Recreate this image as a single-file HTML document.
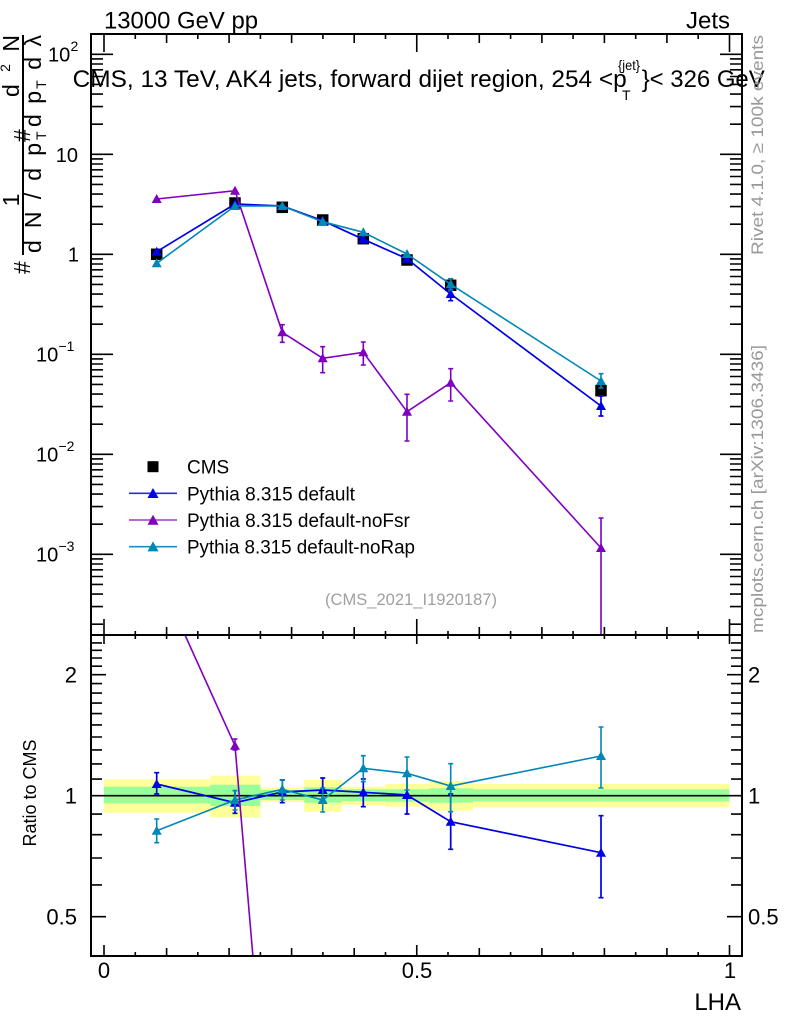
<!DOCTYPE html>
<html><head><meta charset="utf-8"><style>
html,body{margin:0;padding:0;background:#fff;width:786px;height:1024px;overflow:hidden;}
svg{display:block;font-family:"Liberation Sans",Arial,sans-serif;}
</style></head><body>
<svg width="786" height="1024" viewBox="0 0 786 1024" xmlns="http://www.w3.org/2000/svg">
<defs>
<clipPath id="cm"><rect x="91" y="34" width="651" height="601"/></clipPath>
<clipPath id="cr"><rect x="91" y="635" width="651" height="321"/></clipPath>
</defs>
<rect x="0" y="0" width="786" height="1024" fill="#fff"/>

<!-- header texts -->
<text x="104" y="28.5" font-size="24" textLength="154" lengthAdjust="spacingAndGlyphs">13000 GeV pp</text>
<text x="730" y="28.5" font-size="24" text-anchor="end">Jets</text>
<text x="72.7" y="87" font-size="24" textLength="554" lengthAdjust="spacingAndGlyphs">CMS, 13 TeV, AK4 jets, forward dijet region, 254 &lt;p</text>
<text x="618" y="70" font-size="14" textLength="22" lengthAdjust="spacingAndGlyphs">{jet}</text>
<text x="622" y="100" font-size="14">T</text>
<text x="641.7" y="87" font-size="24" textLength="123" lengthAdjust="spacingAndGlyphs">}&lt; 326 GeV</text>

<!-- right side gray texts -->
<text transform="translate(763,255) rotate(-90)" font-size="17" fill="#999" textLength="220" lengthAdjust="spacingAndGlyphs">Rivet 4.1.0, ≥ 100k events</text>
<text transform="translate(763,633) rotate(-90)" font-size="17" fill="#999" textLength="288" lengthAdjust="spacingAndGlyphs">mcplots.cern.ch [arXiv:1306.3436]</text>

<!-- y axis label (main) -->
<text transform="translate(30,274) rotate(-90)" font-size="23">#</text>
<line x1="23" y1="35" x2="23" y2="255" stroke="#000" stroke-width="2"/>
<text transform="translate(19,200) rotate(-90)" font-size="23" text-anchor="middle">1</text>
<text transform="translate(41,253) rotate(-90)" font-size="23" textLength="110" lengthAdjust="spacing">d N / d p</text>
<text transform="translate(46,140) rotate(-90)" font-size="14">T</text>
<text transform="translate(30,142) rotate(-90)" font-size="23">#</text>
<text transform="translate(19,97) rotate(-90)" font-size="23" textLength="62" lengthAdjust="spacing">d<tspan font-size="14" dy="-9">2</tspan><tspan dy="9">N</tspan></text>
<text transform="translate(41,127) rotate(-90)" font-size="23" textLength="92" lengthAdjust="spacing">d p<tspan font-size="14" dy="5">T</tspan><tspan dy="-5"> d λ</tspan></text>

<!-- ratio y label -->
<text transform="translate(36,793) rotate(-90)" font-size="18" text-anchor="middle" textLength="107" lengthAdjust="spacingAndGlyphs">Ratio to CMS</text>

<!-- main y tick labels -->
<g font-size="20">
<text x="48" y="61.5">10</text><text x="70.5" y="51" font-size="14">2</text>
<text x="78" y="162" text-anchor="end">10</text>
<text x="79" y="261.5" text-anchor="end">1</text>
<text x="36" y="361.5">10</text><text x="58.5" y="351" font-size="14">−1</text>
<text x="36" y="461.5">10</text><text x="58.5" y="451" font-size="14">−2</text>
<text x="36" y="561.5">10</text><text x="58.5" y="551" font-size="14">−3</text>
</g>

<!-- ratio y tick labels -->
<g font-size="22">
<text x="77" y="682.7" text-anchor="end">2</text>
<text x="77" y="803.7" text-anchor="end">1</text>
<text x="77" y="924.7" text-anchor="end">0.5</text>
<text x="748" y="682.7">2</text>
<text x="748" y="803.7">1</text>
<text x="748" y="924.7">0.5</text>
</g>

<!-- x tick labels -->
<g font-size="22" text-anchor="middle">
<text x="104" y="978">0</text>
<text x="417" y="978">0.5</text>
<text x="730" y="978">1</text>
</g>
<text x="741" y="1010" font-size="24" text-anchor="end">LHA</text>

<!-- gray analysis label -->
<text x="325" y="605" font-size="16.5" fill="#a0a0a0" textLength="172" lengthAdjust="spacingAndGlyphs">(CMS_2021_I1920187)</text>

<!-- ticks -->
<g stroke="#000" stroke-width="1.6" fill="none">
<path d="M91 54.3h22M91 154.3h22M91 254.3h22M91 354.3h22M91 454.3h22M91 554.3h22
M91 58.9h12M91 64h12M91 69.8h12M91 76.5h12M91 84.4h12M91 94.1h12M91 106.6h12M91 124.2h12
M91 158.9h12M91 164h12M91 169.8h12M91 176.5h12M91 184.4h12M91 194.1h12M91 206.6h12M91 224.2h12
M91 258.9h12M91 264h12M91 269.8h12M91 276.5h12M91 284.4h12M91 294.1h12M91 306.6h12M91 324.2h12
M91 358.9h12M91 364h12M91 369.8h12M91 376.5h12M91 384.4h12M91 394.1h12M91 406.6h12M91 424.2h12
M91 458.9h12M91 464h12M91 469.8h12M91 476.5h12M91 484.4h12M91 494.1h12M91 506.6h12M91 524.2h12
M91 558.9h12M91 564h12M91 569.8h12M91 576.5h12M91 584.4h12M91 594.1h12M91 606.6h12M91 624.2h12"/>
<path d="M742 54.3h-22M742 154.3h-22M742 254.3h-22M742 354.3h-22M742 454.3h-22M742 554.3h-22
M742 58.9h-12M742 64h-12M742 69.8h-12M742 76.5h-12M742 84.4h-12M742 94.1h-12M742 106.6h-12M742 124.2h-12
M742 158.9h-12M742 164h-12M742 169.8h-12M742 176.5h-12M742 184.4h-12M742 194.1h-12M742 206.6h-12M742 224.2h-12
M742 258.9h-12M742 264h-12M742 269.8h-12M742 276.5h-12M742 284.4h-12M742 294.1h-12M742 306.6h-12M742 324.2h-12
M742 358.9h-12M742 364h-12M742 369.8h-12M742 376.5h-12M742 384.4h-12M742 394.1h-12M742 406.6h-12M742 424.2h-12
M742 458.9h-12M742 464h-12M742 469.8h-12M742 476.5h-12M742 484.4h-12M742 494.1h-12M742 506.6h-12M742 524.2h-12
M742 558.9h-12M742 564h-12M742 569.8h-12M742 576.5h-12M742 584.4h-12M742 594.1h-12M742 606.6h-12M742 624.2h-12"/>
<path d="M91 916.7h15M91 795.7h15M91 674.7h15
M91 884.9h11M91 858h11M91 834.7h11M91 814.1h11M91 779.1h11M91 763.9h11M91 749.9h11M91 737h11M91 724.9h11M91 713.6h11M91 703.1h11M91 693.1h11M91 683.6h11M91 666.2h11M91 658h11M91 650.3h11M91 642.9h11"/>
<path d="M742 916.7h-15M742 795.7h-15M742 674.7h-15
M742 884.9h-11M742 858h-11M742 834.7h-11M742 814.1h-11M742 779.1h-11M742 763.9h-11M742 749.9h-11M742 737h-11M742 724.9h-11M742 713.6h-11M742 703.1h-11M742 693.1h-11M742 683.6h-11M742 666.2h-11M742 658h-11M742 650.3h-11M742 642.9h-11"/>
<path d="M104 34v18M416.75 34v18M729.5 34v18
M166.6 34v9M229.1 34v9M291.6 34v9M354.2 34v9M479.3 34v9M541.9 34v9M604.4 34v9M666.9 34v9
M135.3 34v5M197.8 34v5M260.4 34v5M322.9 34v5M385.5 34v5M448 34v5M510.6 34v5M573.1 34v5M635.7 34v5M698.2 34v5"/>
<path d="M104 619v25M416.75 619v25M729.5 619v25
M166.6 627v12M229.1 627v12M291.6 627v12M354.2 627v12M479.3 627v12M541.9 627v12M604.4 627v12M666.9 627v12
M135.3 631v8M197.8 631v8M260.4 631v8M322.9 631v8M385.5 631v8M448 631v8M510.6 631v8M573.1 631v8M635.7 631v8M698.2 631v8"/>
<path d="M104 956v-11M416.75 956v-11M729.5 956v-11
M166.6 956v-8M229.1 956v-8M291.6 956v-8M354.2 956v-8M479.3 956v-8M541.9 956v-8M604.4 956v-8M666.9 956v-8
M135.3 956v-4M197.8 956v-4M260.4 956v-4M322.9 956v-4M385.5 956v-4M448 956v-4M510.6 956v-4M573.1 956v-4M635.7 956v-4M698.2 956v-4"/>
</g>

<!-- ===== MAIN PANEL DATA ===== -->
<g clip-path="url(#cm)">
<g fill="#000" stroke="#000" stroke-width="1.5">
<path d="M601 386v9M598.5 386h5M598.5 395h5" fill="none"/>
<rect x="151.7" y="249.3" width="10" height="10"/>
<rect x="230" y="198" width="10" height="10"/>
<rect x="277.3" y="202.3" width="10" height="10"/>
<rect x="317.7" y="215" width="10" height="10"/>
<rect x="358.3" y="233.7" width="10" height="10"/>
<rect x="402" y="255" width="10" height="10"/>
<rect x="445.7" y="280.3" width="10" height="10"/>
<rect x="596" y="385.7" width="10" height="10"/>
</g>
<g stroke="#0000e6" fill="#0000e6" stroke-width="1.7">
<polyline fill="none" points="156.7,251.7 235,204 282.3,206 322.7,220.7 363.3,239.3 407,258.7 450.7,294 601,406"/>
<path fill="none" d="M450.7 289v11.7M448.2 289h5M448.2 300.7h5M601 396v20M598.5 396h5M598.5 416h5"/>
<g stroke="none">
<polygon points="151.7,255.7 161.7,255.7 156.7,246.7"/>
<polygon points="230,208 240,208 235,199"/>
<polygon points="277.3,210 287.3,210 282.3,201"/>
<polygon points="317.7,224.7 327.7,224.7 322.7,215.7"/>
<polygon points="358.3,243.3 368.3,243.3 363.3,234.3"/>
<polygon points="402,262.7 412,262.7 407,253.7"/>
<polygon points="445.7,298 455.7,298 450.7,289"/>
<polygon points="596,410 606,410 601,401"/>
</g>
</g>
<g stroke="#7f00bf" fill="#7f00bf" stroke-width="1.6">
<polyline fill="none" points="156.7,199 235,190.7 282.3,332.3 322.7,358.3 363.3,352.3 407,411.7 450.7,382.7 601,548"/>
<path fill="none" d="M282.3 324.7v17.6M279.8 324.7h5M279.8 342.3h5
M322.7 346.7v26M320.2 346.7h5M320.2 372.7h5
M363.3 342v23M360.8 342h5M360.8 365h5
M407 394.3v46.7M404.5 394.3h5M404.5 441h5
M450.7 368.7v32.3M448.2 368.7h5M448.2 401h5
M601 518v117M598.5 518h5"/>
<g stroke="none">
<polygon points="151.7,203 161.7,203 156.7,194"/>
<polygon points="230,194.7 240,194.7 235,185.7"/>
<polygon points="277.3,336.3 287.3,336.3 282.3,327.3"/>
<polygon points="317.7,362.3 327.7,362.3 322.7,353.3"/>
<polygon points="358.3,356.3 368.3,356.3 363.3,347.3"/>
<polygon points="402,415.7 412,415.7 407,406.7"/>
<polygon points="445.7,386.7 455.7,386.7 450.7,377.7"/>
<polygon points="596,552 606,552 601,543"/>
</g>
</g>
<g stroke="#0087b8" fill="#0087b8" stroke-width="1.6">
<polyline fill="none" points="156.7,263.3 235,206 282.3,206 322.7,221.7 363.3,232.3 407,254 450.7,284.3 601,381"/>
<path fill="none" d="M450.7 278.7v11.3M448.2 278.7h5M448.2 290h5M601 373.7v14.3M598.5 373.7h5M598.5 388h5"/>
<g stroke="none">
<polygon points="151.7,267.3 161.7,267.3 156.7,258.3"/>
<polygon points="230,210 240,210 235,201"/>
<polygon points="277.3,210 287.3,210 282.3,201"/>
<polygon points="317.7,225.7 327.7,225.7 322.7,216.7"/>
<polygon points="358.3,236.3 368.3,236.3 363.3,227.3"/>
<polygon points="402,258 412,258 407,249"/>
<polygon points="445.7,288.3 455.7,288.3 450.7,279.3"/>
<polygon points="596,385 606,385 601,376"/>
</g>
</g>
</g>

<!-- legend -->
<rect x="147.5" y="461.2" width="11" height="11" fill="#000"/>
<text x="187" y="473.5" font-size="19">CMS</text>
<line x1="129" y1="493.3" x2="177" y2="493.3" stroke="#2a2ae8" stroke-width="1.6"/>
<polygon points="147.5,498 158.5,498 153,488" fill="#0000e6"/>
<text x="187" y="500.3" font-size="19">Pythia 8.315 default</text>
<line x1="129" y1="520" x2="177" y2="520" stroke="#9a3acc" stroke-width="1.6"/>
<polygon points="147.5,524.7 158.5,524.7 153,514.7" fill="#7f00bf"/>
<text x="187" y="527" font-size="19">Pythia 8.315 default-noFsr</text>
<line x1="129" y1="546.7" x2="177" y2="546.7" stroke="#1a90c0" stroke-width="1.6"/>
<polygon points="147.5,551.4 158.5,551.4 153,541.4" fill="#0087b8"/>
<text x="187" y="553.7" font-size="19" textLength="228" lengthAdjust="spacingAndGlyphs">Pythia 8.315 default-noRap</text>

<!-- ===== RATIO PANEL ===== -->
<g clip-path="url(#cr)">
<g fill="#ffff99">
<rect x="104" y="779.3" width="106.3" height="33.4"/>
<rect x="210.3" y="775.7" width="50.1" height="41.6"/>
<rect x="260.4" y="787.5" width="43.8" height="14.5"/>
<rect x="304.2" y="780" width="37.5" height="31.7"/>
<rect x="341.7" y="786.7" width="43.8" height="18.3"/>
<rect x="385.5" y="784" width="43.8" height="22.7"/>
<rect x="429.3" y="781" width="43.7" height="29.7"/>
<rect x="473" y="784" width="256.5" height="23.3"/>
</g>
<g fill="#99ff99">
<rect x="104" y="786.7" width="106.3" height="16.6"/>
<rect x="210.3" y="784.7" width="50.1" height="21.3"/>
<rect x="260.4" y="790" width="43.8" height="10"/>
<rect x="304.2" y="787.3" width="37.5" height="15.4"/>
<rect x="341.7" y="789.3" width="43.8" height="11.7"/>
<rect x="385.5" y="789.3" width="43.8" height="12.4"/>
<rect x="429.3" y="788.3" width="43.7" height="14.4"/>
<rect x="473" y="789.3" width="256.5" height="12"/>
</g>
<line x1="104" y1="795.7" x2="729.5" y2="795.7" stroke="#000" stroke-width="1.6"/>

<g stroke="#0000e6" fill="#0000e6" stroke-width="1.7">
<polyline fill="none" points="156.7,784 235,802.7 282.3,792 322.7,790 363.3,792.3 407,795 450.7,821.7 601,852.7"/>
<path fill="none" d="M156.7 772.7v21.3M154.2 772.7h5M154.2 794h5
M235 790.7v22.6M232.5 790.7h5M232.5 813.3h5
M282.3 780v22.7M279.8 780h5M279.8 802.7h5
M322.7 778v23.7M320.2 778h5M320.2 801.7h5
M363.3 779v27.7M360.8 779h5M360.8 806.7h5
M407 776v38M404.5 776h5M404.5 814h5
M450.7 794v55.3M448.2 794h5M448.2 849.3h5
M601 815.7v82M598.5 815.7h5M598.5 897.7h5"/>
<g stroke="none">
<polygon points="151.7,788 161.7,788 156.7,779"/>
<polygon points="230,806.7 240,806.7 235,797.7"/>
<polygon points="277.3,796 287.3,796 282.3,787"/>
<polygon points="317.7,794 327.7,794 322.7,785"/>
<polygon points="358.3,796.3 368.3,796.3 363.3,787.3"/>
<polygon points="402,799 412,799 407,790"/>
<polygon points="445.7,825.7 455.7,825.7 450.7,816.7"/>
<polygon points="596,856.7 606,856.7 601,847.7"/>
</g>
</g>
<g stroke="#0087b8" fill="#0087b8" stroke-width="1.6">
<polyline fill="none" points="156.7,830.7 235,800 282.3,789.3 322.7,800 363.3,768.3 407,773.3 450.7,786 601,756"/>
<path fill="none" d="M156.7 819v23.7M154.2 819h5M154.2 842.7h5
M235 790.7v19.3M232.5 790.7h5M232.5 810h5
M282.3 780v20M279.8 780h5M279.8 800h5
M322.7 788v24M320.2 788h5M320.2 812h5
M363.3 755.7v26M360.8 755.7h5M360.8 781.7h5
M407 757v33M404.5 757h5M404.5 790h5
M450.7 763.7v48M448.2 763.7h5M448.2 811.7h5
M601 727v61M598.5 727h5M598.5 788h5"/>
<g stroke="none">
<polygon points="151.7,834.7 161.7,834.7 156.7,825.7"/>
<polygon points="230,804 240,804 235,795"/>
<polygon points="277.3,793.3 287.3,793.3 282.3,784.3"/>
<polygon points="317.7,804 327.7,804 322.7,795"/>
<polygon points="358.3,772.3 368.3,772.3 363.3,763.3"/>
<polygon points="402,777.3 412,777.3 407,768.3"/>
<polygon points="445.7,790 455.7,790 450.7,781"/>
<polygon points="596,760 606,760 601,751"/>
</g>
</g>
<g stroke="#7f00bf" fill="#7f00bf" stroke-width="1.6">
<polyline fill="none" points="185,635 235,745.7 252.9,956"/>
<path fill="none" d="M235 739v11M232.5 739h5M232.5 750h5"/>
<polygon stroke="none" points="230,749.7 240,749.7 235,740.7"/>
</g>
</g>

<!-- frames -->
<rect x="91" y="34" width="651" height="601" fill="none" stroke="#000" stroke-width="2"/>
<rect x="91" y="635" width="651" height="321" fill="none" stroke="#000" stroke-width="2"/>
</svg>
</body></html>
